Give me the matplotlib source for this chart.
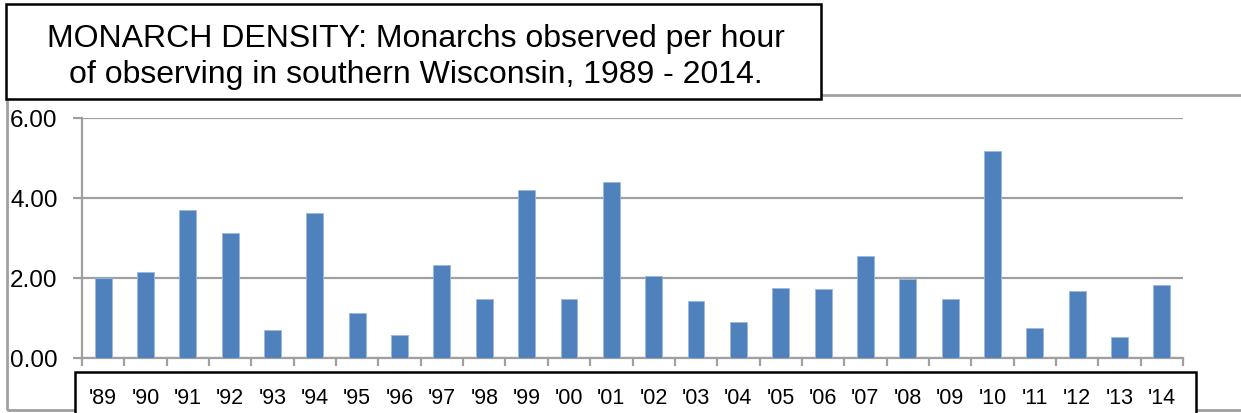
import numpy as np
import matplotlib
matplotlib.use('Agg')
import matplotlib.pyplot as plt
import matplotlib.patches as patches

# data
years = ["'89", "'90", "'91", "'92", "'93", "'94", "'95", "'96", "'97", "'98",
         "'99", "'00", "'01", "'02", "'03", "'04", "'05", "'06", "'07", "'08",
         "'09", "'10", "'11", "'12", "'13", "'14"]
density = [2.00, 2.14, 3.70, 3.12, 0.70, 3.63, 1.12, 0.58, 2.33, 1.47,
           4.20, 1.47, 4.40, 2.06, 1.43, 0.89, 1.75, 1.72, 2.54, 1.97,
           1.47, 5.18, 0.76, 1.67, 0.53, 1.83]
y_ticks = [0, 2, 4, 6]
title = "MONARCH DENSITY: Monarchs observed per hour\nof observing in southern Wisconsin, 1989 - 2014."

plt.rcParams['font.family'] = ['Liberation Sans', 'DejaVu Sans']

W, H = 1241, 414
fig = plt.figure(figsize=(W / 100, H / 100), dpi=100)


def px_rect(x0, y0, x1, y1, **kw):
    # rectangle given in image pixels (origin top-left)
    return patches.Rectangle((x0 / W, 1 - y1 / H), (x1 - x0) / W, (y1 - y0) / H,
                             transform=fig.transFigure, figure=fig, **kw)


# outer gray frame, partly hidden by the boxes
fig.patches.append(px_rect(7, 96, 1260, 411, facecolor='none', edgecolor='#a0a0a0',
                           linewidth=2, zorder=-3))
# box behind the year labels
fig.patches.append(px_rect(75, 373, 1196, 430, facecolor='white', edgecolor='black',
                           linewidth=1.8, zorder=-2))
# title box
fig.patches.append(px_rect(6, 5, 821, 100, facecolor='white', edgecolor='black',
                           linewidth=1.8, zorder=2))
fig.text(416 / W, 1 - 57 / H, title, ha='center', va='center', fontsize=23,
         linespacing=1.3, zorder=3)

ax = fig.add_axes([82 / W, 1 - 359 / H, (1183 - 82) / W, 240 / H])
ax.patch.set_alpha(0)
x = np.arange(len(years))
ax.bar(x, density, width=0.4, color='#4f81bd', edgecolor='#9db7dc', linewidth=0.6, zorder=3)

ax.set_xlim(-0.5, len(years) - 0.5)
ax.set_ylim(0, 6)
ax.set_yticks(y_ticks)
ax.set_yticklabels([f'{v:.2f}' for v in y_ticks], fontsize=17.5)
ax.yaxis.grid(True, color='#a0a0a0', linewidth=1.6, zorder=0)
ax.set_axisbelow(True)

ax.set_xticks(x)
ax.set_xticklabels(years, fontsize=15.5)
ax.set_xticks(np.arange(len(years) + 1) - 0.5, minor=True)
ax.tick_params(axis='x', which='major', length=0, pad=21)
ax.tick_params(axis='x', which='minor', length=6, width=1.6, color='#a0a0a0', direction='out')
ax.tick_params(axis='y', length=6.5, width=1.6, color='#a0a0a0', pad=11)

for s in ['top', 'right']:
    ax.spines[s].set_visible(False)
for s in ['left', 'bottom']:
    ax.spines[s].set_color('#a0a0a0')
    ax.spines[s].set_linewidth(1.6)

fig.savefig('out.png', dpi=100)
